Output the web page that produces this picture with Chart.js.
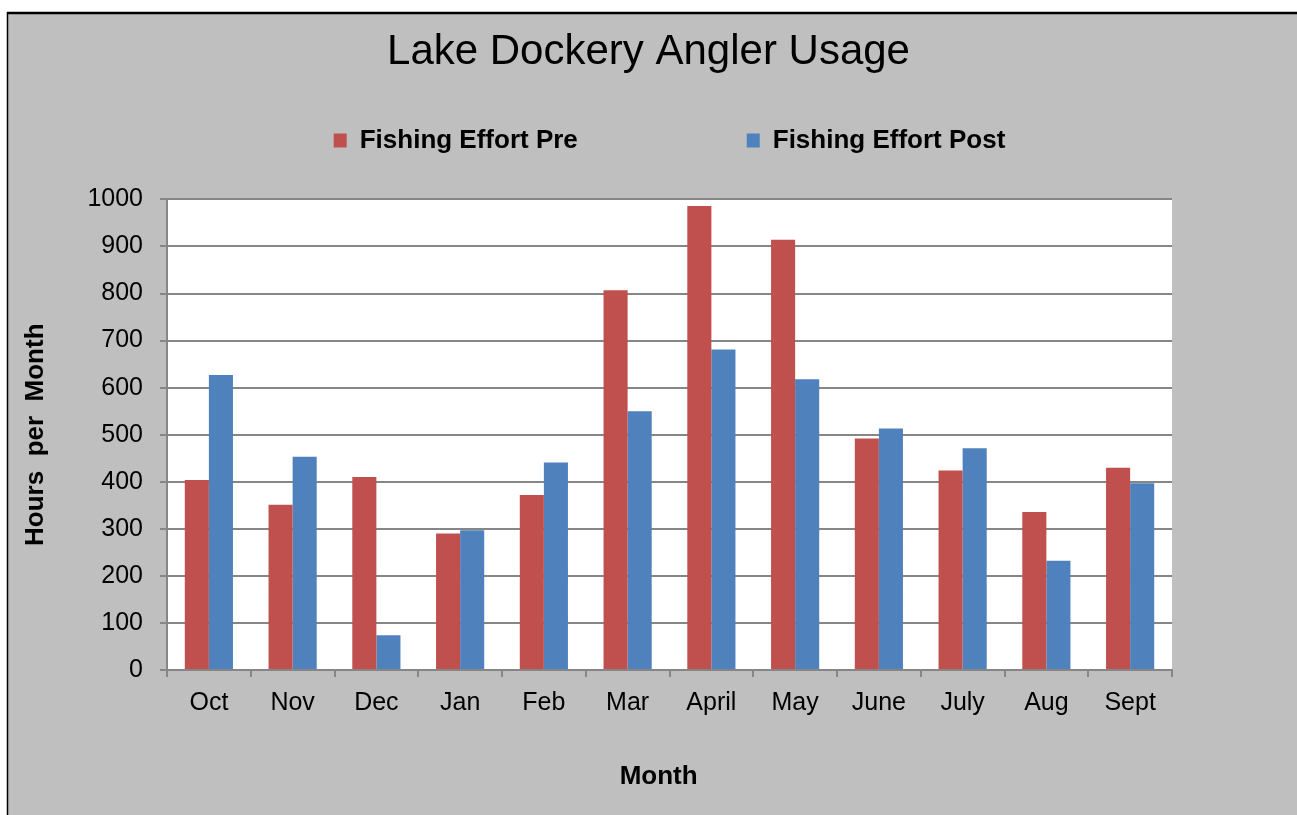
<!DOCTYPE html>
<html>
<head>
<meta charset="utf-8">
<title>Lake Dockery Angler Usage</title>
<script src="https://cdn.jsdelivr.net/npm/chart.js@4.4.1/dist/chart.umd.min.js"></script>
<style>
  html, body { margin: 0; padding: 0; background: #ffffff; }
  canvas { display: block; }
</style>
</head>
<body>
<canvas id="anglerChart" width="1297" height="815"></canvas>
<script>
// data
const months = ["Oct", "Nov", "Dec", "Jan", "Feb", "Mar", "April", "May", "June", "July", "Aug", "Sept"];
const effortPre = [404, 351, 410, 290, 372, 807, 986, 914, 492, 424, 336, 430];
const effortPost = [627, 453, 74, 297, 441, 550, 681, 618, 513, 471, 232, 397];
const yTicks = { min: 0, max: 1000, step: 100 };

const FONT = "'Liberation Sans', Arial, sans-serif";
const GRID = "#868686";

// gray chart frame + white plot area
const framePlugin = {
    id: "frame",
    beforeDraw(chart) {
        const { ctx, width, height, chartArea } = chart;
        ctx.save();
        ctx.fillStyle = "#ffffff";
        ctx.fillRect(0, 0, width, height);
        ctx.fillStyle = "#bfbfbf";
        ctx.fillRect(7, 12, width - 7, height - 12);
        ctx.strokeStyle = "#000000";
        ctx.lineWidth = 2.5;
        ctx.beginPath();
        ctx.moveTo(7, 13);
        ctx.lineTo(width, 13);
        ctx.stroke();
        ctx.lineWidth = 1.5;
        ctx.beginPath();
        ctx.moveTo(7.5, 12);
        ctx.lineTo(7.5, height);
        ctx.stroke();
        ctx.fillStyle = "#ffffff";
        ctx.fillRect(chartArea.left, chartArea.top, chartArea.right - chartArea.left, chartArea.bottom - chartArea.top);
        ctx.restore();
    }
};

const ctx = document.getElementById("anglerChart").getContext("2d");
const anglerChart = new Chart(ctx, {
    type: "bar",
    data: {
        labels: months,
        datasets: [{
            label: "Fishing Effort Pre",
            data: effortPre,
            backgroundColor: "#c0504d",
            borderWidth: 0
        }, {
            label: "Fishing Effort Post",
            data: effortPost,
            backgroundColor: "#4f81bd",
            borderWidth: 0
        }]
    },
    options: {
        responsive: false,
        animation: false,
        events: [],
        layout: { padding: 0 },
        datasets: {
            bar: { barPercentage: 1, categoryPercentage: 0.575 }
        },
        plugins: {
            tooltip: { enabled: false },
            title: {
                display: true,
                text: "Lake Dockery Angler Usage",
                color: "#000000",
                font: { family: FONT, size: 42, weight: "normal" },
                padding: { top: 27, bottom: 40 }
            },
            legend: {
                display: true,
                position: "top",
                fullSize: false,
                labels: {
                    color: "#000000",
                    font: { family: FONT, size: 26, weight: "bold" },
                    boxWidth: 13,
                    boxHeight: 14,
                    padding: 10,
                    // Excel spreads the two entries apart
                    generateLabels(chart) {
                        const items = Chart.defaults.plugins.legend.labels.generateLabels(chart);
                        items[0].text += " ".repeat(22);
                        return items;
                    }
                }
            }
        },
        scales: {
            x: {
                grid: { drawOnChartArea: false, drawTicks: true, tickLength: 7, color: GRID, lineWidth: 2 },
                border: { display: true, color: GRID, width: 2 },
                ticks: { color: "#000000", font: { family: FONT, size: 25 }, padding: 11, maxRotation: 0 },
                title: {
                    display: true,
                    text: "Month   ",
                    color: "#000000",
                    font: { family: FONT, size: 26, weight: "bold" },
                    padding: { top: 0, bottom: 23 }
                },
                afterFit(scale) { scale.height = 145; }
            },
            y: {
                min: yTicks.min,
                max: yTicks.max,
                grid: { color: GRID, lineWidth: 2, drawTicks: true, tickLength: 7 },
                border: { display: true, color: GRID, width: 2 },
                ticks: {
                    stepSize: yTicks.step,
                    color: "#000000",
                    font: { family: FONT, size: 25 },
                    padding: 17,
                    callback: (value) => String(value)
                },
                title: {
                    display: true,
                    text: "Hours  per  Month",
                    color: "#000000",
                    font: { family: FONT, size: 26, weight: "bold" },
                    padding: { top: 20, bottom: 0 }
                },
                afterFit(scale) { scale.width = 167; }
            },
            // empty spacer axes so the plot area sits where Excel put it
            padRight: {
                type: "linear", axis: "y", position: "right",
                grid: { display: false }, border: { display: false }, ticks: { display: false },
                afterFit(scale) { scale.width = 125; }
            },
            padTop: {
                type: "linear", axis: "x", position: "top",
                grid: { display: false }, border: { display: false }, ticks: { display: false },
                afterFit(scale) { scale.height = 36; }
            }
        }
    },
    plugins: [framePlugin]
});
</script>
</body>
</html>
